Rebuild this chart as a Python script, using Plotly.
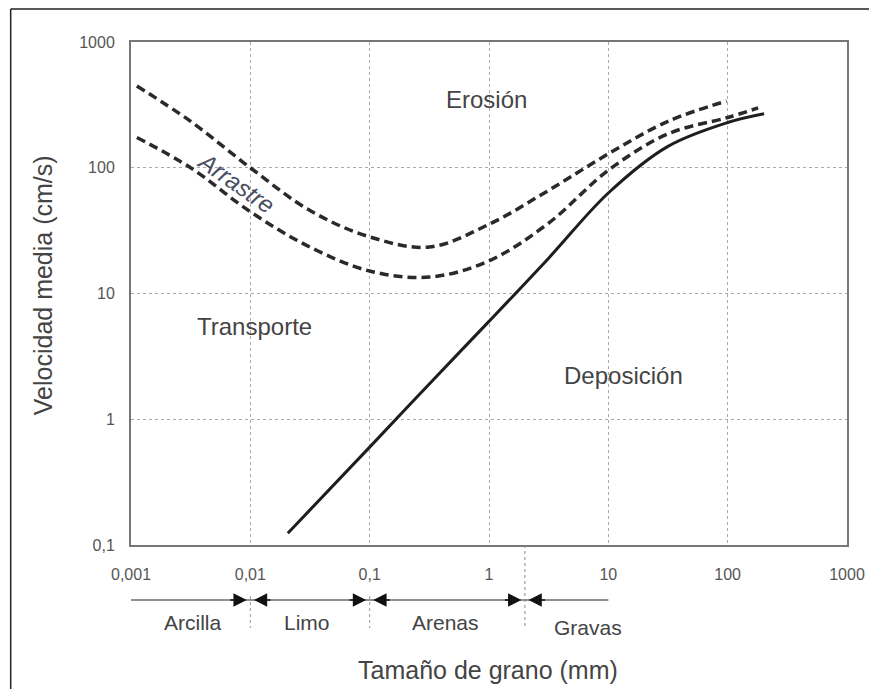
import math
import plotly.graph_objects as go

# ---- data (grain size in mm, mean velocity in cm/s) ----
erosion_upper_x = [0.00112, 0.00316, 0.01, 0.0316, 0.1, 0.316, 1.0, 3.16, 10, 31.6, 98]
erosion_upper_y = [447, 234, 100, 45.7, 28.2, 23.4, 35.5, 66.1, 129, 234, 339]

erosion_lower_x = [0.00112, 0.00316, 0.01, 0.0316, 0.1, 0.316, 1.0, 3.16, 10, 31.6, 100, 180]
erosion_lower_y = [174, 100, 44.7, 23.4, 15.1, 13.5, 18.2, 36.3, 95.5, 186, 251, 299]

deposition_x = [0.0206, 0.1, 0.316, 1.0, 3.16, 10, 31.6, 100, 202]
deposition_y = [0.124, 0.60, 1.91, 6.0, 19.1, 63, 148, 229, 269]

x_tickvals = [0.001, 0.01, 0.1, 1, 10, 100, 1000]
x_ticktext = ["0,001", "0,01", "0,1", "1", "10", "100", "1000"]
y_tickvals = [0.1, 1, 10, 100, 1000]
y_ticktext = ["0,1", "1", "10", "100", "1000"]

# region labels: (text, x mm, y cm/s)
region_labels = [("Erosión", 0.96, 352), ("Transporte", 0.0108, 5.42), ("Deposición", 13.3, 2.21)]
drag_label = ("Arrastre", 0.0076, 77)

# grain-size classes along the bottom
class_bounds = [0.001, 0.01, 0.1, 2, 10]
class_names = ["Arcilla", "Limo", "Arenas", "Gravas"]
class_label_x = [0.00325, 0.0301, 0.432, 6.7]

FONT = "Arial, Liberation Sans, sans-serif"
TXT = "#444444"

fig = go.Figure()
fig.add_trace(go.Scatter(x=erosion_upper_x, y=erosion_upper_y, mode="lines",
                         line=dict(color="#2a2a2a", width=3.5, dash="9px,5px", shape="spline"),
                         showlegend=False, hoverinfo="skip"))
fig.add_trace(go.Scatter(x=erosion_lower_x, y=erosion_lower_y, mode="lines",
                         line=dict(color="#2a2a2a", width=3.5, dash="9px,5px", shape="spline"),
                         showlegend=False, hoverinfo="skip"))
fig.add_trace(go.Scatter(x=deposition_x, y=deposition_y, mode="lines",
                         line=dict(color="#1e1e1e", width=3, shape="spline"),
                         showlegend=False, hoverinfo="skip"))

# the page body has an 8px margin: the figure is drawn 8px right/down
OFF = 8
W, H = 877 - OFF, 689 - OFF
L, T = 131 - OFF, 42 - OFF
R = W - (857 - OFF)
B = H - (545 - OFF)
pw, ph = W - L - R, H - T - B


def px(sx):  # screen x -> paper x
    return (sx - OFF - L) / pw


def py(sy):  # screen y -> paper y
    return (H - B - (sy - OFF)) / ph


ann = []
for text, xv, yv in region_labels:
    ann.append(dict(x=math.log10(xv), y=math.log10(yv), xref="x", yref="y", text=text,
                    xanchor="center", yanchor="middle",
                    showarrow=False, font=dict(family=FONT, size=24, color=TXT)))
ann.append(dict(x=math.log10(drag_label[1]), y=math.log10(drag_label[2]), xref="x", yref="y",
                text="<i>" + drag_label[0] + "</i>", textangle=35, showarrow=False,
                xanchor="center", yanchor="middle",
                font=dict(family=FONT, size=24, color="#4a4e60")))

# axis titles
ann.append(dict(x=px(493), y=py(670), xref="paper", yref="paper", text="Tamaño de grano (mm)",
                xanchor="center", yanchor="middle",
                showarrow=False, font=dict(family=FONT, size=25, color=TXT)))
ann.append(dict(x=px(42), y=py(285), xref="paper", yref="paper", text="Velocidad media (cm/s)",
                xanchor="center", yanchor="middle",
                textangle=-90, showarrow=False, font=dict(family=FONT, size=25, color=TXT)))

# class labels
for i, name in enumerate(class_names):
    yy = py(627) if name == "Gravas" else py(622)
    ann.append(dict(x=math.log10(class_label_x[i]), y=yy, xref="x", yref="paper", text=name,
                    xanchor="center", yanchor="middle",
                    showarrow=False, font=dict(family=FONT, size=21, color=TXT)))

# arrow heads at the class boundaries
arrow_y = py(600)
for i in range(len(class_bounds) - 1):
    lo, hi = math.log10(class_bounds[i]), math.log10(class_bounds[i + 1])
    if i > 0:
        ann.append(dict(x=lo + 0.03, y=arrow_y, xref="x", yref="paper", ax=18, ay=0,
                        axref="pixel", ayref="pixel", text="", showarrow=True,
                        arrowhead=2, arrowsize=1.9, arrowwidth=1.4, arrowcolor="#111"))
    if i < len(class_bounds) - 2:
        ann.append(dict(x=hi - 0.03, y=arrow_y, xref="x", yref="paper", ax=-18, ay=0,
                        axref="pixel", ayref="pixel", text="", showarrow=True,
                        arrowhead=2, arrowsize=1.9, arrowwidth=1.4, arrowcolor="#111"))

shapes = [
    # class line (shapes on log axes take data values)
    dict(type="line", xref="x", yref="paper", x0=class_bounds[0], x1=class_bounds[-1],
         y0=arrow_y, y1=arrow_y, line=dict(color="#222", width=1.2)),
    # dotted separators
    dict(type="line", xref="x", yref="paper", x0=class_bounds[1], x1=class_bounds[1], y0=py(596), y1=py(628),
         line=dict(color="#999", width=1, dash="dot")),
    dict(type="line", xref="x", yref="paper", x0=class_bounds[2], x1=class_bounds[2], y0=py(596), y1=py(628),
         line=dict(color="#999", width=1, dash="dot")),
    dict(type="line", xref="x", yref="paper", x0=class_bounds[3], x1=class_bounds[3], y0=0, y1=py(628),
         line=dict(color="#888", width=1, dash="dot")),
    # outer border of the picture
    dict(type="line", xref="paper", yref="paper", x0=px(9), x1=px(9), y0=py(9), y1=py(700),
         line=dict(color="#222", width=1.5)),
    dict(type="line", xref="paper", yref="paper", x0=px(9), x1=px(880), y0=py(9), y1=py(9),
         line=dict(color="#222", width=1.5)),
]

fig.update_layout(
    width=W, height=H,
    margin=dict(l=L, r=R, t=T, b=B),
    paper_bgcolor="white", plot_bgcolor="white",
    showlegend=False,
    annotations=ann, shapes=shapes,
    font=dict(family=FONT, color=TXT),
)
fig.update_xaxes(type="log", range=[-3, 3], tickvals=x_tickvals, ticktext=x_ticktext,
                 showgrid=True, gridcolor="#aaaaaa", griddash="dot", gridwidth=1,
                 showline=True, linecolor="#777", linewidth=2, mirror=True,
                 ticks="", ticklabelstandoff=14, zeroline=False,
                 tickfont=dict(family=FONT, size=16, color="#555"))
fig.update_yaxes(type="log", range=[-1, 3], tickvals=y_tickvals, ticktext=y_ticktext,
                 showgrid=True, gridcolor="#aaaaaa", griddash="dot", gridwidth=1,
                 showline=True, linecolor="#777", linewidth=2, mirror=True,
                 ticks="", ticklabelstandoff=11, zeroline=False,
                 tickfont=dict(family=FONT, size=16, color="#555"))

fig.write_html("out.html")
